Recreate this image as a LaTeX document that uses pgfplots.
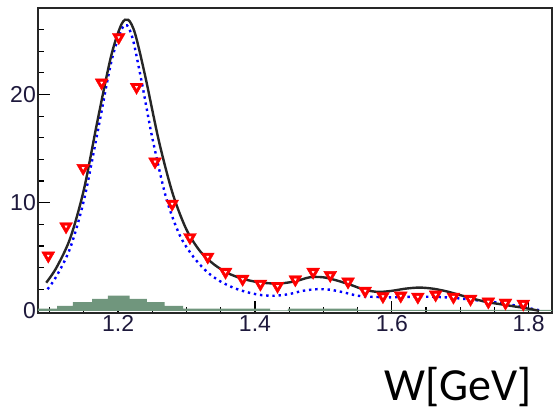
\documentclass[border=0pt]{standalone}
\usepackage{pgfplots}
\pgfplotsset{compat=1.18}
\usepackage{fontspec}
\setmainfont{Liberation Sans}
\newfontfamily\labelfont{Carlito}
\definecolor{bggreen}{RGB}{112,150,125}
\definecolor{ticktxt}{RGB}{30,25,60}
\begin{document}
\begin{tikzpicture}
\path[use as bounding box] (-38pt,-105pt) rectangle (516pt,313pt);
\begin{axis}[
  at={(0pt,0pt)}, anchor=south west,
  scale only axis, width=514pt, height=305pt,
  xmin=1.083, xmax=1.834, ymin=-0.2, ymax=28,
  axis line style={line width=1.6pt, black!85},
  xtick={1.2,1.4,1.6,1.8}, minor xtick={1.1,1.15,1.25,1.3,1.35,1.45,1.5,1.55,1.65,1.7,1.75},
  ytick={0,10,20}, minor ytick={2,4,6,8,12,14,16,18,22,24,26},
  xtick pos=bottom, ytick pos=left, tick align=inside,
  major tick length=12pt, minor tick length=6pt,
  every tick/.style={black, line width=1.2pt},
  xticklabel style={font=\fontsize{23}{23}\selectfont, text=ticktxt, inner sep=2.5pt},
  yticklabel style={font=\fontsize{23}{23}\selectfont, text=ticktxt, inner sep=2pt},
  /pgf/number format/assume math mode=true,
  /pgf/number format/fixed, /pgf/number format/precision=1,
  clip=true,
]
% background histogram
\addplot[fill=bggreen, draw=none, const plot mark left] coordinates {
(1.083,0.2) (1.111,0.45) (1.134,0.8) (1.162,1.1) (1.185,1.4) (1.217,1.1)
(1.242,0.8) (1.268,0.45) (1.295,0.2) (1.422,0.05) (1.448,0.2) (1.55,0.08) (1.834,0.08)
} \closedcycle;
% resonant contribution (blue dotted)
\addplot[blue, line width=2.4pt, dash pattern=on 2.4pt off 3.8pt, smooth, tension=0.5] coordinates {
(1.097,2.0) (1.11,3.2) (1.13,5.8) (1.15,10.2) (1.17,16.5) (1.19,23.0) (1.205,26.0)
(1.213,26.4) (1.222,25.0) (1.235,21.0) (1.25,16.0) (1.27,10.5) (1.29,7.0) (1.31,5.0)
(1.33,3.6) (1.35,2.7) (1.37,2.1) (1.39,1.7) (1.41,1.45) (1.43,1.4) (1.45,1.55)
(1.47,1.85) (1.49,2.0) (1.51,1.95) (1.53,1.7) (1.55,1.4) (1.57,1.3) (1.60,1.25)
(1.63,1.3) (1.66,1.3) (1.69,1.2) (1.72,1.0) (1.75,0.8) (1.78,0.5) (1.80,0.25) (1.82,0.0)
};
% total (black solid)
\addplot[black!85, line width=2.4pt, smooth, tension=0.5] coordinates {
(1.095,2.6) (1.11,4.0) (1.13,6.7) (1.15,11.2) (1.17,17.6) (1.19,23.6) (1.205,26.5)
(1.215,26.9) (1.225,25.6) (1.24,21.6) (1.26,15.6) (1.28,10.8) (1.30,7.5) (1.32,5.5)
(1.34,4.3) (1.36,3.5) (1.38,3.0) (1.40,2.7) (1.42,2.55) (1.44,2.55) (1.46,2.75)
(1.48,3.1) (1.50,3.1) (1.52,2.8) (1.54,2.4) (1.56,1.95) (1.58,1.75) (1.60,1.85)
(1.62,2.05) (1.64,2.15) (1.66,2.05) (1.68,1.8) (1.70,1.45) (1.72,1.1) (1.74,0.8)
(1.76,0.6) (1.78,0.4) (1.80,0.2) (1.815,0.0)
};
% data points
\addplot[only marks, mark=triangle*, mark size=7.5pt, red, mark options={fill=red, draw=red, rotate=180}] coordinates {
(1.098,5.1) (1.124,7.8) (1.149,13.2) (1.176,21.1) (1.201,25.3) (1.227,20.7)
(1.254,13.8) (1.279,9.9) (1.305,6.8) (1.331,5.0) (1.357,3.6) (1.382,2.95)
(1.408,2.5) (1.433,2.3) (1.459,2.9) (1.485,3.6) (1.510,3.3) (1.536,2.7)
(1.561,1.85) (1.587,1.35) (1.613,1.4) (1.638,1.3) (1.664,1.5) (1.690,1.3)
(1.715,1.1) (1.741,0.85) (1.766,0.75) (1.792,0.65)
};
\addplot[only marks, mark=triangle*, mark size=1.3pt, white, mark options={fill=white, draw=white, rotate=180}] coordinates {
(1.098,5.1) (1.124,7.8) (1.149,13.2) (1.176,21.1) (1.201,25.3) (1.227,20.7)
(1.254,13.8) (1.279,9.9) (1.305,6.8) (1.331,5.0) (1.357,3.6) (1.382,2.95)
(1.408,2.5) (1.433,2.3) (1.459,2.9) (1.485,3.6) (1.510,3.3) (1.536,2.7)
(1.561,1.85) (1.587,1.35) (1.613,1.4) (1.638,1.3) (1.664,1.5) (1.690,1.3)
(1.715,1.1) (1.741,0.85) (1.766,0.75) (1.792,0.65)
};
\end{axis}
\node[font=\labelfont\fontsize{46}{46}\selectfont, inner sep=0pt] at (420pt,-74pt) {W[GeV]};
\end{tikzpicture}
\end{document}
